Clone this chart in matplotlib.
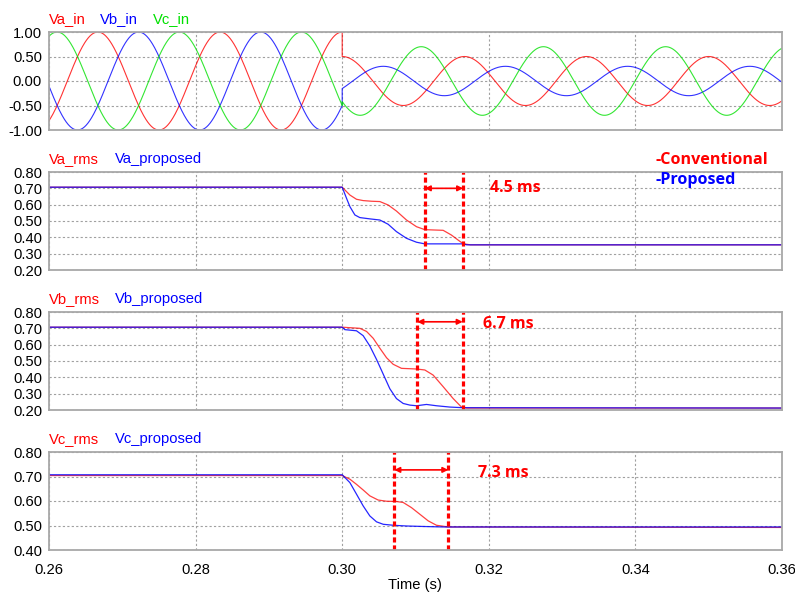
import numpy as np
import matplotlib
matplotlib.use("Agg")
import matplotlib.pyplot as plt
from matplotlib.ticker import FormatStrFormatter

plt.rcParams['font.family'] = ['Liberation Sans', 'DejaVu Sans']

# ---------------- data ----------------
FREQ = 60.0
T_FAULT = 0.30
pre_amp = [1.0, 1.0, 1.0]
pre_phase_deg = [0.0, -120.0, 120.0]
post_amp = [0.5, 0.3, 0.7]
post_phase_deg = [0.0, -121.0, 127.0]
in_names = ["Va_in", "Vb_in", "Vc_in"]

# RMS curves (time, value)
va_rms_t = [0.26, 0.300, 0.30105, 0.30195, 0.30286, 0.30400, 0.30514, 0.30627, 0.30740, 0.30877,
            0.31014, 0.31127, 0.31250, 0.31377, 0.31490, 0.31582, 0.31650, 0.31750, 0.36]
va_rms_v = [0.707, 0.707, 0.659, 0.633, 0.625, 0.621, 0.619, 0.598, 0.561, 0.506,
            0.465, 0.447, 0.445, 0.443, 0.414, 0.383, 0.361, 0.354, 0.354]
va_pro_t = [0.26, 0.300, 0.30059, 0.30105, 0.30173, 0.30240, 0.30377, 0.30514, 0.30627, 0.30740,
            0.30877, 0.31014, 0.31127, 0.31650, 0.31700, 0.36]
va_pro_v = [0.707, 0.707, 0.639, 0.588, 0.537, 0.521, 0.513, 0.506, 0.480, 0.435,
            0.394, 0.370, 0.360, 0.360, 0.354, 0.354]

vb_rms_t = [0.26, 0.300, 0.30241, 0.30332, 0.30423, 0.30514, 0.30605, 0.30695, 0.30809, 0.31014,
            0.31127, 0.31240, 0.31377, 0.31514, 0.31627, 0.31700, 0.36]
vb_rms_v = [0.707, 0.707, 0.700, 0.681, 0.639, 0.578, 0.520, 0.480, 0.455, 0.451,
            0.445, 0.414, 0.343, 0.270, 0.218, 0.212, 0.212]
vb_pro_t = [0.26, 0.300, 0.30036, 0.30195, 0.30286, 0.30377, 0.30468, 0.30559, 0.30650, 0.30740,
            0.30832, 0.30923, 0.31014, 0.31150, 0.31286, 0.31468, 0.31650, 0.36]
vb_pro_v = [0.707, 0.707, 0.692, 0.685, 0.655, 0.592, 0.510, 0.420, 0.330, 0.270,
            0.240, 0.230, 0.226, 0.234, 0.226, 0.218, 0.214, 0.212]

vc_rms_t = [0.26, 0.300, 0.30105, 0.30195, 0.30286, 0.30377, 0.30490, 0.30605, 0.30740, 0.30832,
            0.30945, 0.31059, 0.31173, 0.31286, 0.31445, 0.36]
vc_rms_v = [0.704, 0.704, 0.689, 0.668, 0.645, 0.621, 0.604, 0.599, 0.598, 0.594,
            0.573, 0.546, 0.519, 0.501, 0.494, 0.492]
vc_pro_t = [0.26, 0.300, 0.30105, 0.30195, 0.30286, 0.30377, 0.30468, 0.30559, 0.30695, 0.30877,
            0.31105, 0.31377, 0.36]
vc_pro_v = [0.707, 0.707, 0.675, 0.628, 0.580, 0.539, 0.515, 0.505, 0.501, 0.498,
            0.496, 0.494, 0.494]

rms_names = [("Va_rms", "Va_proposed"), ("Vb_rms", "Vb_proposed"), ("Vc_rms", "Vc_proposed")]
marker_t = [(0.31127, 0.31650), (0.31025, 0.31644), (0.30711, 0.31448)]
marker_text = ["4.5 ms", "6.7 ms", "7.3 ms"]
arrow_y = [0.700, 0.740, 0.727]
text_t = [0.3202, 0.3192, 0.3185]
text_y = [0.700, 0.729, 0.715]
ylims = [(0.2, 0.8), (0.2, 0.8), (0.4, 0.8)]
x_ticks = [0.26, 0.28, 0.30, 0.32, 0.34, 0.36]

# ---------------- figure ----------------
W, H = 795, 593
fig = plt.figure(figsize=(W / 100, H / 100), dpi=100)

def ax_rect(top_px, bot_px):
    return [49 / W, 1 - bot_px / H, (782 - 49) / W, (bot_px - top_px) / H]

rects = [ax_rect(32, 130), ax_rect(172, 270), ax_rect(312, 410), ax_rect(452, 550)]
axes = [fig.add_axes(r) for r in rects]

RED, BLUE, GREEN = '#ff0000', '#0000ff', '#00e000'
GRID = '#a0a0a0'
FS = 10.6
BOLD_FAM = ['Open Sans', 'Lato', 'Liberation Sans', 'DejaVu Sans']

def style(ax, ylim, yticks):
    ax.set_xlim(0.26, 0.36)
    ax.set_ylim(*ylim)
    ax.set_xticks(x_ticks)
    ax.set_yticks(yticks)
    ax.yaxis.set_major_formatter(FormatStrFormatter('%.2f'))
    ax.xaxis.set_major_formatter(FormatStrFormatter('%.2f'))
    ax.tick_params(length=0, labelsize=FS, pad=5)
    ax.tick_params(axis='x', pad=9)
    ax.grid(True, color=GRID, linestyle=(0, (2, 2)), linewidth=0.8)
    ax.set_axisbelow(True)
    for s in ax.spines.values():
        s.set_color('#a8a8a8')
        s.set_linewidth(1.3)

# Top panel: input voltages
t_pre = np.linspace(0.26, T_FAULT, 800)
t_post = np.linspace(T_FAULT, 0.36, 1200)
w = 2 * np.pi * FREQ
ax = axes[0]
for i, col in enumerate([RED, BLUE, GREEN]):
    y_pre = pre_amp[i] * np.cos(w * t_pre + np.deg2rad(pre_phase_deg[i]))
    y_post = post_amp[i] * np.cos(w * t_post + np.deg2rad(post_phase_deg[i]))
    ax.plot(np.concatenate([t_pre, t_post]), np.concatenate([y_pre, y_post]),
            color=col, lw=0.8, alpha=0.8)
style(ax, (-1.0, 1.0), [-1.0, -0.5, 0.0, 0.5, 1.0])
ax.tick_params(axis='x', labelbottom=False)
for name, col, xp in zip(in_names, [RED, BLUE, GREEN], [49, 100, 153]):
    fig.text(xp / W, 1 - 19 / H, name, color=col, fontsize=FS, va='center', ha='left')

# RMS panels
rms_data = [(va_rms_t, va_rms_v, va_pro_t, va_pro_v),
            (vb_rms_t, vb_rms_v, vb_pro_t, vb_pro_v),
            (vc_rms_t, vc_rms_v, vc_pro_t, vc_pro_v)]
label_y_px = [159, 299, 439]
for k in range(3):
    ax = axes[k + 1]
    rt, rv, pt, pv = rms_data[k]
    ax.plot(rt, rv, color=RED, lw=0.9, alpha=0.75)
    ax.plot(pt, pv, color=BLUE, lw=0.9, alpha=0.85)
    lo, hi = ylims[k]
    style(ax, ylims[k], list(np.round(np.arange(lo, hi + 0.001, 0.1), 2)))
    if k < 2:
        ax.tick_params(axis='x', labelbottom=False)
    for tm in marker_t[k]:
        ax.axvline(tm, color=RED, lw=2.3, linestyle=(0, (1.6, 0.9)))
    ax.annotate('', xy=(marker_t[k][1], arrow_y[k]), xytext=(marker_t[k][0], arrow_y[k]),
                arrowprops=dict(arrowstyle='<|-|>', color=RED, lw=1.2, mutation_scale=8,
                                shrinkA=0, shrinkB=0))
    ax.text(text_t[k], text_y[k], marker_text[k], color=RED, fontsize=11.5,
            fontweight='bold', family=BOLD_FAM, va='center', ha='left')
    n1, n2 = rms_names[k]
    fig.text(49 / W, 1 - label_y_px[k] / H, n1, color=RED, fontsize=FS, va='center', ha='left')
    fig.text(115 / W, 1 - label_y_px[k] / H, n2, color=BLUE, fontsize=FS, va='center', ha='left')

fig.text(656 / W, 1 - 160 / H, '-Conventional', color=RED, fontsize=11.6, fontweight='bold',
         family=BOLD_FAM, va='center', ha='left')
fig.text(656 / W, 1 - 180 / H, '-Proposed', color=BLUE, fontsize=11.6, fontweight='bold',
         family=BOLD_FAM, va='center', ha='left')

fig.text(415 / W, 1 - 585 / H, 'Time (s)', color='black', fontsize=FS, va='center', ha='center')

fig.savefig('out.png', dpi=100, facecolor='white')
